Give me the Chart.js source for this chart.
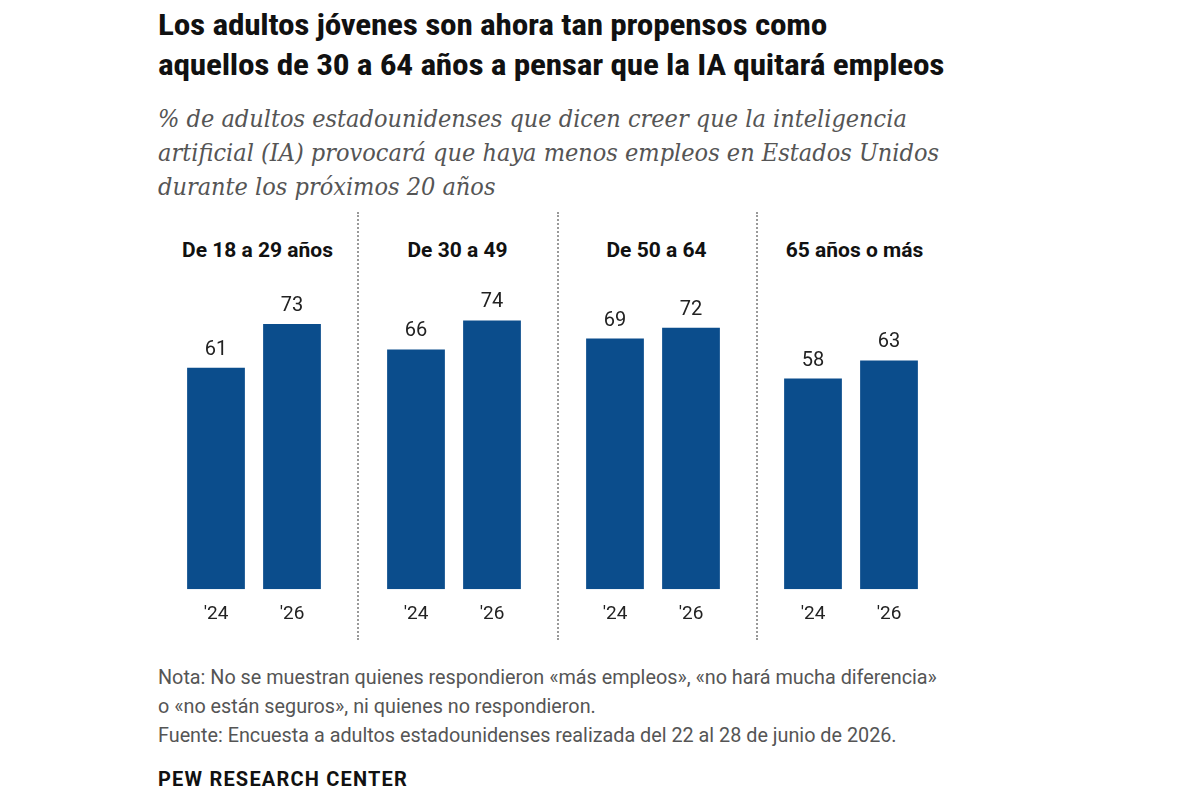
<!DOCTYPE html>
<html><head><meta charset="utf-8">
<script src="https://cdn.jsdelivr.net/npm/chart.js@4"></script>
<style>
body{margin:0;width:1200px;height:800px;background:#fff;position:relative;font-family:"Liberation Sans",Arial,sans-serif;color:#111;overflow:hidden}
.t{position:absolute;left:158px;top:5px;font:bold 30px/40px "Roboto Condensed","Liberation Sans Narrow","Roboto",sans-serif;letter-spacing:-0.2px;transform:scaleX(1.11);transform-origin:left;white-space:nowrap}
.s{position:absolute;left:158px;top:102px;font:italic 25px/34px "DejaVu Serif",Georgia,serif;color:#555;transform:scaleX(0.9);transform-origin:left;width:1000px}
.p{position:absolute;top:212px;height:428px;width:199px}
.sep{border-right:2px dotted #999}
.h{position:absolute;top:26px;left:0;width:199px;text-align:center;font:bold 21px "Roboto","Liberation Sans",sans-serif}
canvas{position:absolute}
.n{position:absolute;left:158px;top:663px;font:19.8px/29px "Roboto","Liberation Sans",sans-serif;color:#555}
.pew{position:absolute;left:158px;top:767px;font:bold 20px "Roboto","Liberation Sans",sans-serif;letter-spacing:1.2px}
</style></head><body>
<div class="t">Los adultos jóvenes son ahora tan propensos como<br>aquellos de 30 a 64 años a pensar que la IA quitará empleos</div>
<div class="s">% de adultos estadounidenses que dicen creer que la inteligencia<br>artificial (IA) provocará que haya menos empleos en Estados Unidos<br>durante los próximos 20 años</div>
<div id="panels"></div>
<div class="n">Nota: No se muestran quienes respondieron «más empleos», «no hará mucha diferencia»<br>o «no están seguros», ni quienes no respondieron.<br>Fuente: Encuesta a adultos estadounidenses realizada del 22 al 28 de junio de 2026.</div>
<div class="pew">PEW RESEARCH CENTER</div>
<script>
const groups = ['De 18 a 29 años', 'De 30 a 49', 'De 50 a 64', '65 años o más'];
const years  = ["'24", "'26"];
const values = [[61, 73], [66, 74], [69, 72], [58, 63]];

const panelLeft = [158, 358, 557, 755];
const wrap = document.getElementById('panels');

const labelPlugin = {
  id: 'vals',
  afterDatasetsDraw(chart) {
    const c = chart.ctx;
    c.save();
    c.font = '20px Roboto, "Liberation Sans", sans-serif';
    c.fillStyle = '#222';
    c.textAlign = 'center';
    c.textBaseline = 'bottom';
    chart.getDatasetMeta(0).data.forEach((b, i) => {
      c.fillText(chart.data.datasets[0].data[i], b.x, b.y - 8);
    });
    c.restore();
  }
};

groups.forEach((g, i) => {
  const p = document.createElement('div');
  p.className = 'p' + (i < 3 ? ' sep' : '');
  p.style.left = panelLeft[i] + 'px';
  p.innerHTML = `<div class="h">${g}</div>`;
  const cv = document.createElement('canvas');
  cv.style.left = '20px';
  cv.style.top = '14px';
  cv.style.width = '152px';
  cv.style.height = '406px';
  p.appendChild(cv);
  wrap.appendChild(p);
  new Chart(cv, {
    type: 'bar',
    data: { labels: years, datasets: [{ data: values[i], backgroundColor: '#0b4d8c', categoryPercentage: 1, barPercentage: 0.76 }] },
    options: {
      responsive: false, animation: false,
      layout: { padding: 0 },
      plugins: { legend: { display: false }, tooltip: { enabled: false } },
      scales: {
        x: { grid: { display: false }, border: { display: false },
             ticks: { color: '#222', font: { size: 19, family: 'Roboto' }, padding: 6 } },
        y: { display: false, min: 0, max: 100 }
      }
    },
    plugins: [labelPlugin]
  });
});
</script>
</body></html>
